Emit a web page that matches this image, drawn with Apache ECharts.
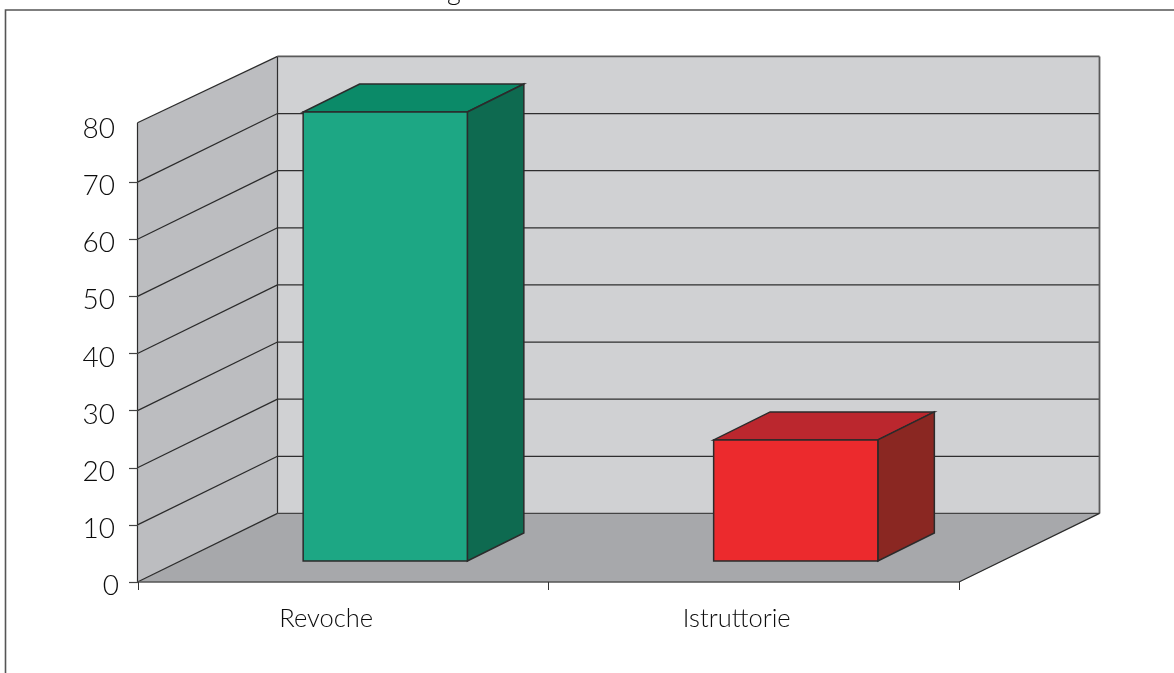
<!DOCTYPE html>
<html>
<head>
<meta charset="utf-8">
<style>html,body{margin:0;padding:0;background:#fff}#c{width:1174px;height:673px}</style>
<script src="https://cdn.jsdelivr.net/npm/echarts@6/dist/echarts.min.js"></script>
</head>
<body>
<div id="c"></div>
<script>
var categories = ['Revoche', 'Istruttorie'];
var barValues = [78.6, 21.2];
var yTicks = [0, 10, 20, 30, 40, 50, 60, 70, 80];
var tickedValues = [0, 10, 20, 30, 40, 50, 60, 70];
var wallFrontTop = 80.4;
var greenFaces = ['#1da784', '#0b8a68', '#0e6a50'];
var redFaces = ['#ec2a2d', '#bb272e', '#8a2722'];
var barFaces = [greenFaces, redFaces];

var DX = 140, DY = -68.6;            // wall depth
var GAPX = 42, GAPY = -21;           // bar's distance from front plane
var BX = 56.5, BY = -28;             // bar depth
var INK = '#2b2b2b';
var LABEL = '#0c0c0c';

function poly(pts, fill, stroke, lw) {
  return { type: 'polygon', shape: { points: pts },
    style: { fill: fill || 'none', stroke: stroke || 'none', lineWidth: lw || 0 } };
}
function seg(a, b, stroke, lw) {
  return { type: 'line', shape: { x1: a[0], y1: a[1], x2: b[0], y2: b[1] },
    style: { stroke: stroke, lineWidth: lw, fill: 'none' } };
}

function renderWalls(params, api) {
  var cs = params.coordSys;
  var x0 = cs.x - 0.5, x1 = cs.x + cs.width + 0.5;
  var y0 = api.coord([0, 0])[1], yT = api.coord([0, 80])[1], yW = api.coord([0, wallFrontTop])[1];
  var kids = [];
  // back wall
  kids.push(poly([[x0 + DX, yT + DY], [x1 + DX, yT + DY], [x1 + DX, y0 + DY], [x0 + DX, y0 + DY]], '#d0d1d3'));
  // left wall
  kids.push(poly([[x0, yW], [x0 + DX, yT + DY], [x0 + DX, y0 + DY], [x0, y0]], '#bcbdc0'));
  // floor
  kids.push(poly([[x0, y0], [x0 + DX, y0 + DY], [x1 + DX, y0 + DY], [x1, y0]], '#a7a8ab'));
  // grid lines
  tickedValues.forEach(function (v) {
    var y = api.coord([0, v])[1];
    kids.push(seg([x0, y], [x0 + DX, y + DY], INK, 1.2));
    if (v > 0) kids.push(seg([x0 + DX, y + DY], [x1 + DX, y + DY], '#2e2e2e', 1.2));
  });
  // wall edges
  kids.push(seg([x0, yW], [x0 + DX, yT + DY], INK, 1.2));
  kids.push(seg([x0 + DX, yT + DY], [x0 + DX, y0 + DY], '#2e2e2e', 1.2));
  kids.push(seg([x0, yW], [x0, y0], INK, 1.2));
  kids.push(seg([x0 + DX, yT + DY], [x1 + DX, yT + DY], '#5a5a5a', 1.8));
  kids.push(seg([x1 + DX, yT + DY], [x1 + DX, y0 + DY], '#5a5a5a', 1.8));
  kids.push(seg([x0 + DX, y0 + DY], [x1 + DX, y0 + DY], '#444', 1.4));
  kids.push(seg([x1 - 0.5, y0], [x1 + DX, y0 + DY], INK, 1.2));
  return { type: 'group', children: kids };
}

function renderBar(params, api) {
  var idx = api.value(0), val = api.value(1);
  var band = api.size([1, 0])[0];
  var w = band * 0.4;
  var base = api.coord([idx, 0]), top = api.coord([idx, val]);
  var cx = base[0] + GAPX;
  var l = cx - w / 2, r = cx + w / 2;
  var b = base[1] + GAPY, t = top[1] + GAPY;
  var f = barFaces[params.dataIndex];
  return { type: 'group', children: [
    poly([[l, t], [r, t], [r + BX, t + BY], [l + BX, t + BY]], f[1], INK, 1.5),
    poly([[r, t], [r + BX, t + BY], [r + BX, b + BY], [r, b]], f[2], INK, 1.5),
    poly([[l, t], [r, t], [r, b], [l, b]], f[0], INK, 1.5)
  ] };
}

var chart = echarts.init(document.getElementById('c'), null, { renderer: 'canvas' });
var FONT = 'Lato';
chart.setOption({
  animation: false,
  backgroundColor: '#fff',
  grid: { left: 138, right: 215, top: 125, bottom: 91 },
  xAxis: {
    type: 'category', data: categories, z: 5,
    axisLine: { lineStyle: { color: '#555', width: 1.6 } },
    axisTick: { show: true, alignWithLabel: false, length: 8, lineStyle: { color: '#333', width: 1 } },
    axisLabel: { fontFamily: FONT, fontSize: 25.5, fontWeight: 300, color: LABEL, margin: 24, padding: [0, 34, 0, 0] },
    splitLine: { show: false }
  },
  yAxis: {
    type: 'value', min: 0, max: 80, interval: 10, z: 5,
    axisLine: { show: false },
    axisTick: { show: true, length: 9, customValues: tickedValues, lineStyle: { color: '#444', width: 1.2 } },
    axisLabel: {
      fontFamily: FONT, fontSize: 27, color: LABEL, margin: 19,
      customValues: yTicks,
      formatter: function (v) { return v === 0 ? '{z|0}' : '{n|' + v + '}'; },
      rich: {
        z: { fontFamily: FONT, fontSize: 28, fontWeight: 300, color: LABEL, padding: [8, 0, 0, 0] },
        n: { fontFamily: FONT, fontSize: 28, fontWeight: 300, color: LABEL, padding: [8, 4, 0, 0] }
      }
    },
    splitLine: { show: false }
  },
  graphic: [
    { type: 'rect', shape: { x: 5.5, y: 10, width: 1300, height: 900 }, z: 0, silent: true,
      style: { fill: 'none', stroke: '#555', lineWidth: 1.6 } },
    { type: 'text', x: 447, y: -22, z: 0, silent: true,
      style: { text: 'g', fontFamily: FONT, fontSize: 27, fontWeight: 300, fill: LABEL } }
  ],
  series: [
    { type: 'custom', coordinateSystem: 'cartesian2d', renderItem: renderWalls, data: [[0, 0]], z: 1, silent: true, clip: false },
    { type: 'custom', coordinateSystem: 'cartesian2d', renderItem: renderBar,
      encode: { x: 0, y: 1 },
      data: categories.map(function (c, i) { return [i, barValues[i]]; }), z: 2, silent: true, clip: false }
  ]
});
</script>
</body>
</html>
